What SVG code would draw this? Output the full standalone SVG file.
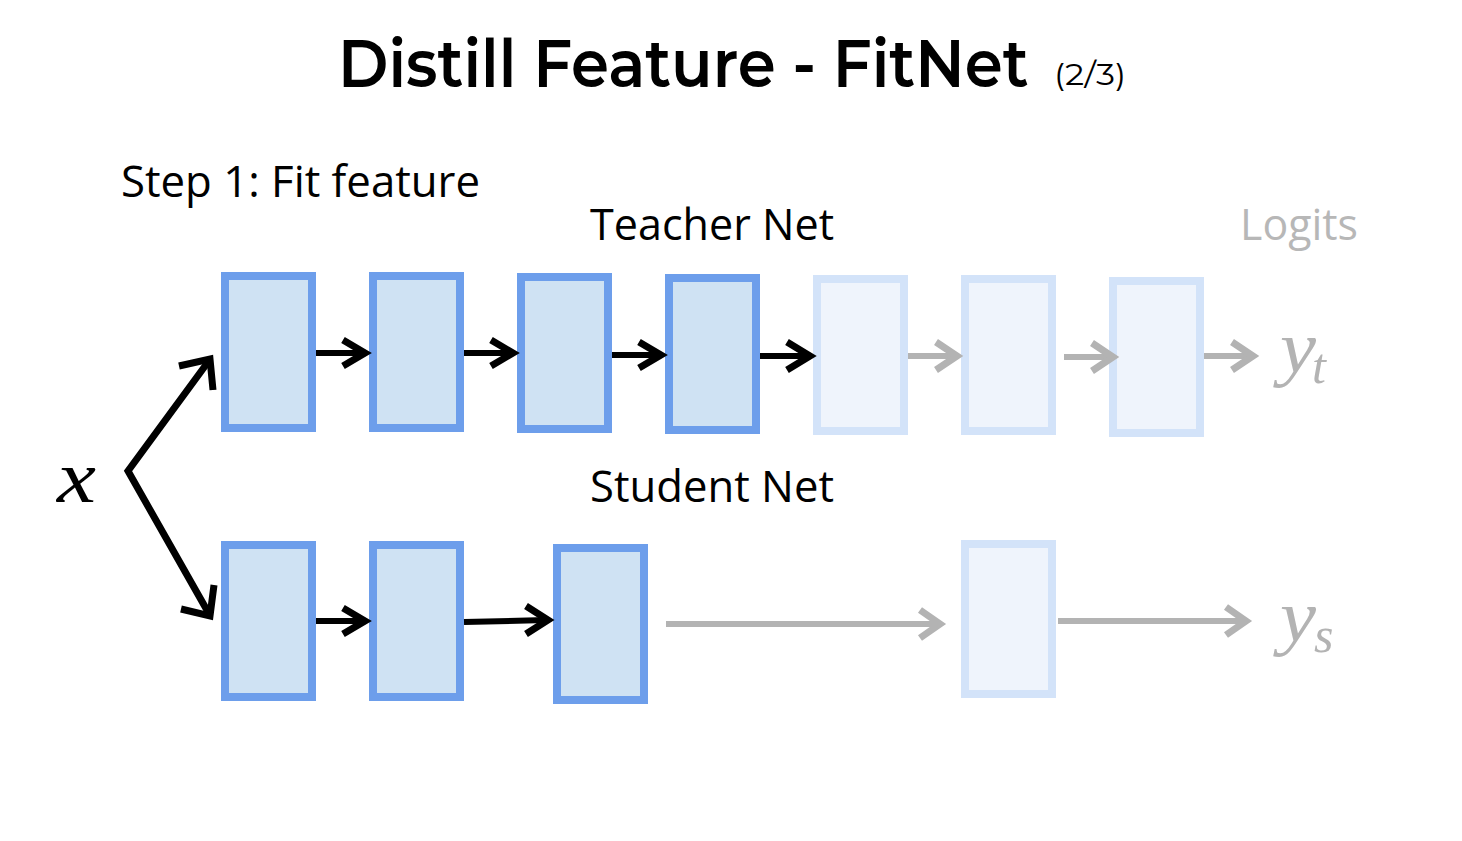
<svg xmlns="http://www.w3.org/2000/svg" width="1462" height="841" viewBox="0 0 1462 841">
  <defs>
    <style>
      .blk { fill: #cfe2f3; stroke: #6d9eeb; stroke-width: 8; }
      .blk-faded { fill: #eff4fc; stroke: #d3e3f9; stroke-width: 8; }
      .edge { fill: none; stroke: #000; stroke-width: 6; }
      .edge-faded { fill: none; stroke: #b3b3b3; stroke-width: 6; }
      .head { fill: none; stroke: #000; stroke-width: 7; stroke-linejoin: miter; }
      .head-faded { fill: none; stroke: #b3b3b3; stroke-width: 7; stroke-linejoin: miter; }
      .label { font-family: "Open Sans", "Liberation Sans", sans-serif; font-size: 44px; fill: #000; }
      .math { font-family: "Liberation Serif", "DejaVu Serif", serif; font-style: italic; }
    </style>
  </defs>

  <rect width="1462" height="841" fill="#fff"/>

  <!-- heading, condensed horizontally -->
  <g id="title">
    <text transform="translate(338,87) scale(0.925,1)" font-family="Montserrat, Lato, 'Liberation Sans', sans-serif" font-size="66" font-weight="600">Distill Feature - FitNet</text>
    <text x="1054" y="85" font-family="Montserrat, Lato, 'Liberation Sans', sans-serif" font-size="29" font-weight="400" textLength="72" lengthAdjust="spacingAndGlyphs">(2/3)</text>
  </g>

  <g id="step-label"><text class="label" x="121" y="197" textLength="359" lengthAdjust="spacingAndGlyphs">Step 1: Fit feature</text></g>
  <g id="teacher-label"><text class="label" x="590" y="240" textLength="244" lengthAdjust="spacingAndGlyphs">Teacher Net</text></g>
  <g id="student-label"><text class="label" x="590" y="502" textLength="244" lengthAdjust="spacingAndGlyphs">Student Net</text></g>
  <g id="logits-label"><text class="label" x="1240" y="240" style="fill:#b7b7b7" textLength="118" lengthAdjust="spacingAndGlyphs">Logits</text></g>

  <!-- input -->
  <g id="input-x"><text class="math" x="57" y="502" font-size="74" textLength="39" lengthAdjust="spacingAndGlyphs">x</text></g>

  <!-- teacher layers -->
  <g id="teacher-1"><rect class="blk" x="225" y="276" width="87" height="152"/></g>
  <g id="teacher-2"><rect class="blk" x="373" y="276" width="87" height="152"/></g>
  <g id="teacher-3"><rect class="blk" x="521" y="277" width="87" height="152"/></g>
  <g id="teacher-4"><rect class="blk" x="669" y="278" width="87" height="152"/></g>
  <g id="teacher-5"><rect class="blk-faded" x="817" y="279" width="87" height="152"/></g>
  <g id="teacher-6"><rect class="blk-faded" x="965" y="279" width="87" height="152"/></g>
  <g id="teacher-7"><rect class="blk-faded" x="1113" y="281" width="87" height="152"/></g>

  <!-- student layers -->
  <g id="student-1"><rect class="blk" x="225" y="545" width="87" height="152"/></g>
  <g id="student-2"><rect class="blk" x="373" y="545" width="87" height="152"/></g>
  <g id="student-3"><rect class="blk" x="557" y="548" width="87" height="152"/></g>
  <g id="student-4"><rect class="blk-faded" x="965" y="544" width="87" height="150"/></g>

  <!-- outputs -->
  <g id="output-yt">
    <text class="math" x="1280" y="372" font-size="74" fill="#b3b3b3" textLength="36" lengthAdjust="spacingAndGlyphs">y</text>
    <text class="math" x="1312" y="383" font-size="50" fill="#b3b3b3">t</text>
  </g>
  <g id="output-ys">
    <text class="math" x="1280" y="641" font-size="74" fill="#b3b3b3" textLength="36" lengthAdjust="spacingAndGlyphs">y</text>
    <text class="math" x="1314" y="652" font-size="50" fill="#b3b3b3">s</text>
  </g>

  <!-- connectors -->
  <g id="connectors">
    <!-- input split -->
    <polyline class="edge" points="208,362 128,471 208,612" style="stroke-width:7"/>
    <polyline class="head" points="179,366 210,359 213,390"/>
    <polyline class="head" points="181,609 210,616 214,585"/>

    <!-- teacher chain -->
    <line class="edge" x1="316" y1="353" x2="364" y2="353"/>
    <polyline class="head" points="343,340 365,353 343,366"/>
    <line class="edge" x1="464" y1="353" x2="512" y2="353"/>
    <polyline class="head" points="491,340 513,353 491,366"/>
    <line class="edge" x1="612" y1="355" x2="660" y2="355"/>
    <polyline class="head" points="639,342 661,355 639,368"/>
    <line class="edge" x1="760" y1="356" x2="808" y2="356"/>
    <polyline class="head" points="787,342 810,356 787,370"/>
    <line class="edge-faded" x1="908" y1="356" x2="956" y2="356"/>
    <polyline class="head-faded" points="936,342 957,356 936,370"/>
    <line class="edge-faded" x1="1064" y1="357" x2="1112" y2="357"/>
    <polyline class="head-faded" points="1092,343 1113,357 1092,371"/>
    <line class="edge-faded" x1="1204" y1="356" x2="1252" y2="356"/>
    <polyline class="head-faded" points="1232,342 1253,356 1232,370"/>

    <!-- student chain -->
    <line class="edge" x1="316" y1="621" x2="364" y2="621"/>
    <polyline class="head" points="343,608 365,621 343,634"/>
    <line class="edge" x1="464" y1="622" x2="546" y2="620"/>
    <polyline class="head" points="526,606 548,620 526,634"/>
    <line class="edge-faded" x1="666" y1="624" x2="939" y2="624"/>
    <polyline class="head-faded" points="920,610 940,624 920,638"/>
    <line class="edge-faded" x1="1058" y1="621" x2="1245" y2="621"/>
    <polyline class="head-faded" points="1226,607 1246,621 1226,635"/>
  </g>
</svg>
